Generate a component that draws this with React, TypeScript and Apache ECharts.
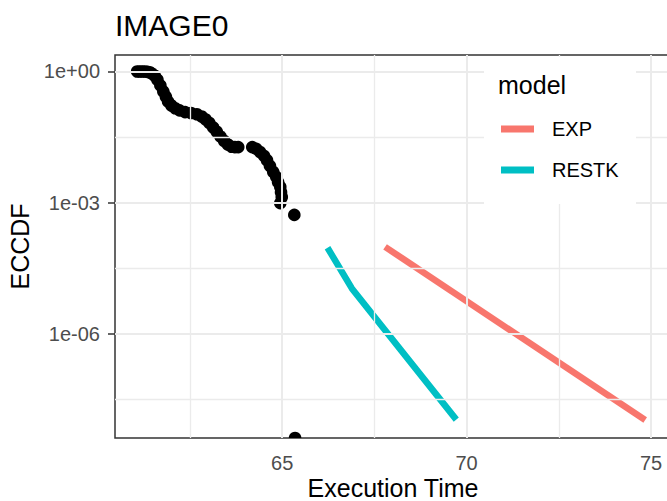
import React, { useEffect, useRef } from 'react';
import * as echarts from 'echarts';

// Empirical CCDF points (execution time, log10 of ECCDF)
const pointTime = [
  61.07, 61.14, 61.21, 61.28, 61.35, 61.41, 61.47, 61.55, 61.62, 61.70,
  61.78, 61.85, 61.91, 62.0, 62.1, 62.22, 62.37, 62.53, 62.69, 62.82,
  62.93, 63.03, 63.13, 63.23, 63.33, 63.43, 63.53, 63.63, 63.72, 63.81,
  64.19, 64.3, 64.4, 64.51, 64.59, 64.67, 64.76, 64.84, 64.89, 64.95,
  64.97, 64.99, 64.95, 65.33, 65.35,
];
const pointLog10Eccdf = [
  0, 0, 0, 0, -0.01, -0.02, -0.05, -0.1, -0.19, -0.32,
  -0.46, -0.58, -0.69, -0.78, -0.84, -0.89, -0.93, -0.95, -0.98, -1.03,
  -1.1, -1.18, -1.28, -1.38, -1.49, -1.59, -1.67, -1.72, -1.73, -1.73,
  -1.73, -1.77, -1.84, -1.93, -2.03, -2.16, -2.3, -2.41, -2.53, -2.64,
  -2.76, -2.87, -3.01, -3.28, -8.38,
];

// Model curves
const expTime = [67.79, 74.84];
const expLog10Eccdf = [-4.01, -7.97];
const restkTime = [66.23, 66.89, 69.72];
const restkLog10Eccdf = [-4.03, -4.96, -7.96];

const modelNames = ['EXP', 'RESTK'];
const modelColors = ['#F8766D', '#00BFC4'];

// Axes
const xMin = 60.47;
const xMax = 75.54;
const xTickValues = [65, 70, 75];
const xMinorValues = [62.5, 67.5, 72.5];
const yMin = -8.38;
const yMax = 0.376;
const yTickValues = [0, -3, -6];
const yTickLabels = ['1e+00', '1e-03', '1e-06'];
const yMinorValues = [-1.5, -4.5, -7.5];

const FONT = '"Liberation Sans", Arial, Helvetica, sans-serif';

export default function App() {
  const ref = useRef<HTMLDivElement>(null);

  useEffect(() => {
    const chart = echarts.init(ref.current as HTMLDivElement, null, { renderer: 'svg' });

    const gridLines = [
      ...xTickValues.map((v) => ({ xAxis: v, lineStyle: { width: 2, color: '#EBEBEB', type: 'solid' } })),
      ...xMinorValues.map((v) => ({ xAxis: v, lineStyle: { width: 1.3, color: '#EBEBEB', type: 'solid' } })),
      ...yTickValues.map((v) => ({ yAxis: v, lineStyle: { width: 2, color: '#EBEBEB', type: 'solid' } })),
      ...yMinorValues.map((v) => ({ yAxis: v, lineStyle: { width: 1.3, color: '#EBEBEB', type: 'solid' } })),
    ];

    const yLabel = (v: number) => {
      let best = 0;
      yTickValues.forEach((t, i) => {
        if (Math.abs(t - v) < Math.abs(yTickValues[best] - v)) best = i;
      });
      return yTickLabels[best];
    };

    chart.setOption({
      animation: false,
      textStyle: { fontFamily: FONT },
      title: {
        text: 'IMAGE0',
        left: 115,
        top: 10,
        padding: 0,
        textStyle: { fontSize: 30, fontWeight: 'normal', color: '#000000', fontFamily: FONT },
      },
      grid: {
        left: 115,
        top: 55,
        right: -4,
        bottom: 63,
        show: true,
        borderColor: '#333333',
        borderWidth: 1.5,
        backgroundColor: 'transparent',
        containLabel: false,
        outerBoundsMode: 'none',
      },
      xAxis: {
        type: 'value',
        min: xMin,
        max: xMax,
        name: 'Execution Time',
        nameLocation: 'middle',
        nameGap: 37,
        nameMoveOverlap: false,
        nameTextStyle: { fontSize: 25, color: '#000000', fontFamily: FONT },
        axisLine: { show: false },
        axisTick: {
          show: true,
          customValues: xTickValues,
          length: 7,
          lineStyle: { color: '#333333', width: 1.5 },
        },
        axisLabel: {
          customValues: xTickValues,
          fontSize: 20,
          color: '#4D4D4D',
          margin: 15,
          fontFamily: FONT,
        },
        splitLine: { show: false },
      },
      yAxis: {
        type: 'value',
        min: yMin,
        max: yMax,
        name: 'ECCDF',
        nameLocation: 'middle',
        nameGap: 83,
        nameMoveOverlap: false,
        nameTextStyle: { fontSize: 25, color: '#000000', fontFamily: FONT },
        axisLine: { show: false },
        axisTick: {
          show: true,
          customValues: yTickValues,
          length: 7,
          lineStyle: { color: '#333333', width: 1.5 },
        },
        axisLabel: {
          customValues: yTickValues,
          formatter: (v: number) => yLabel(v),
          fontSize: 20,
          color: '#4D4D4D',
          margin: 15,
          fontFamily: FONT,
        },
        splitLine: { show: false },
      },
      legend: {
        data: modelNames.map((n) => ({ name: n, icon: 'rect' })),
        orient: 'vertical',
        left: 501,
        top: 119,
        padding: 0,
        itemWidth: 33,
        itemHeight: 7,
        itemGap: 21,
        selectedMode: false,
        z: 20,
        textStyle: { fontSize: 20, color: '#000000', fontFamily: FONT, padding: [0, 0, 0, 13] },
      },
      graphic: [
        {
          type: 'rect',
          shape: { x: 484, y: 57, width: 152, height: 147 },
          style: { fill: '#FFFFFF' },
          z: 10,
          silent: true,
        },
        {
          type: 'text',
          left: 498,
          top: 72,
          z: 20,
          style: { text: 'model', fontSize: 25, fill: '#000000', fontFamily: FONT },
        },
      ],
      series: [
        {
          type: 'line',
          data: [],
          z: 1,
          silent: true,
          markLine: {
            silent: true,
            symbol: ['none', 'none'],
            label: { show: false },
            emphasis: { disabled: true },
            data: gridLines,
          },
        },
        {
          type: 'custom',
          name: 'points',
          clip: true,
          z: 3,
          silent: true,
          data: pointTime.map((t, i) => [t, pointLog10Eccdf[i]]),
          renderItem: (_params: any, api: any) => {
            const p = api.coord([api.value(0), api.value(1)]);
            return {
              type: 'circle',
              shape: { cx: p[0], cy: p[1], r: 6.3 },
              style: { fill: '#000000' },
            };
          },
        },
        {
          type: 'line',
          name: modelNames[0],
          data: expTime.map((t, i) => [t, expLog10Eccdf[i]]),
          showSymbol: false,
          symbol: 'none',
          clip: true,
          z: 3,
          color: modelColors[0],
          itemStyle: { color: modelColors[0] },
          lineStyle: { width: 6.5, color: modelColors[0], cap: 'butt', join: 'round' },
          silent: true,
        },
        {
          type: 'line',
          name: modelNames[1],
          data: restkTime.map((t, i) => [t, restkLog10Eccdf[i]]),
          showSymbol: false,
          symbol: 'none',
          clip: true,
          z: 3,
          color: modelColors[1],
          itemStyle: { color: modelColors[1] },
          lineStyle: { width: 6.5, color: modelColors[1], cap: 'butt', join: 'round' },
          silent: true,
        },
      ],
    });

    return () => chart.dispose();
  }, []);

  return (
    <div
      ref={ref}
      style={{ position: 'fixed', left: 0, top: 0, width: 667, height: 501, background: '#ffffff' }}
    />
  );
}
